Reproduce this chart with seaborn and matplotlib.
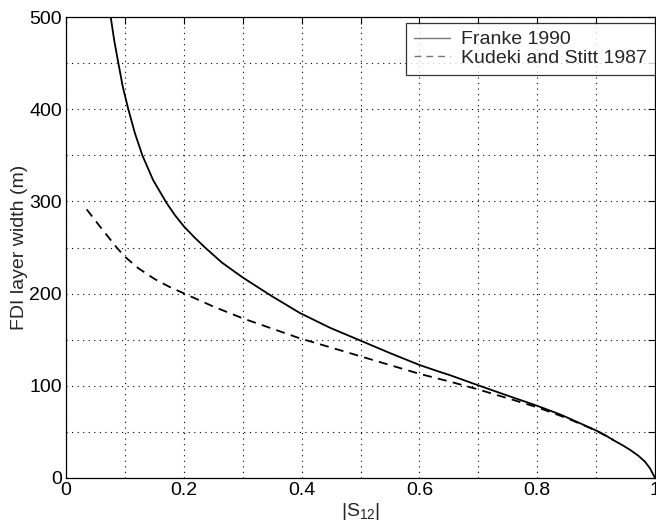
import numpy as np
import pandas as pd
import matplotlib
matplotlib.use("Agg")
import matplotlib.pyplot as plt
import seaborn as sns

# -----------------------------
# Curves
# -----------------------------
franke_s = [0.0759, 0.082, 0.0889, 0.0965, 0.1058, 0.117, 0.1296, 0.148, 0.171, 0.185,
            0.2, 0.218, 0.236, 0.265, 0.3, 0.35, 0.397, 0.448, 0.5, 0.55,
            0.6, 0.635, 0.652, 0.7, 0.75, 0.8, 0.84, 0.873, 0.9, 0.915,
            0.929, 0.945, 0.958, 0.972, 0.983, 0.9915, 1.0]
franke_w = [500, 474, 450, 424, 400, 374, 350, 323, 298, 285,
            273, 261, 250, 233.5, 217.5, 197, 179, 163, 149, 135.5,
            122.6, 115, 111.5, 100.5, 89.3, 78.3, 68.7, 59.3, 51.5, 46.6,
            41.2, 35.5, 30.4, 24, 17.7, 10.5, 0]

kudeki_s = [0.035, 0.058, 0.086, 0.1, 0.123, 0.15, 0.175, 0.2, 0.25, 0.3,
            0.35, 0.397, 0.45, 0.5, 0.55, 0.6, 0.652, 0.7, 0.75, 0.8,
            0.85, 0.9, 0.93]
kudeki_w = [291.4, 272.5, 250, 240, 227.4, 216, 207.5, 200.3, 186, 173.2,
            162, 151.5, 141.5, 132, 122.5, 113, 104.5, 96, 86.5, 76.7,
            65, 51.5, 41]

df = pd.concat([
    pd.DataFrame({'S12': franke_s, 'width': franke_w, 'src': 'Franke 1990'}),
    pd.DataFrame({'S12': kudeki_s, 'width': kudeki_w, 'src': 'Kudeki and Stitt 1987'}),
])

sns.set_style("white")
plt.rcParams['font.family'] = ['Liberation Sans', 'DejaVu Sans']
plt.rcParams['mathtext.fontset'] = 'custom'
plt.rcParams['mathtext.rm'] = 'Liberation Sans'
plt.rcParams['mathtext.it'] = 'Liberation Sans:italic'

fig = plt.figure(figsize=(6.56, 5.26), dpi=100)
ax = fig.add_axes([66 / 656, 48 / 526, 589 / 656, 461 / 526])

sns.lineplot(data=df, x='S12', y='width', style='src', color='black',
             dashes={'Franke 1990': '', 'Kudeki and Stitt 1987': (5, 3.5)},
             sort=False, estimator=None, linewidth=1.3, ax=ax)

ax.set_xlim(0, 1)
ax.set_ylim(0, 500)
ax.set_xticks(np.arange(0, 1.01, 0.1))
ax.set_xticklabels(['0', '', '0.2', '', '0.4', '', '0.6', '', '0.8', '', '1'])
ax.set_yticks(np.arange(0, 501, 50))
ax.set_yticklabels(['0', '', '100', '', '200', '', '300', '', '400', '', '500'])
ax.tick_params(direction='in', length=5, width=0.8, top=True, right=True,
               labelsize=14, pad=3, colors='black')
ax.grid(True, linestyle=(0, (1, 4)), color='black', linewidth=0.8)
for sp in ax.spines.values():
    sp.set_color('black')
    sp.set_linewidth(0.9)

ax.set_xlabel(r'$|\mathrm{S}_{12}|$', fontsize=14, labelpad=1)
ax.set_ylabel('FDI layer width (m)', fontsize=14, labelpad=1)

leg = ax.legend(loc='upper right', bbox_to_anchor=(1.0, 0.987), fontsize=14,
                frameon=True, fancybox=False, borderaxespad=0,
                handlelength=1.85, borderpad=0.4, labelspacing=0.05,
                handletextpad=0.6)
leg.get_frame().set_edgecolor('black')
leg.get_frame().set_linewidth(0.9)
for h in leg.get_lines():
    h.set_color('#777777')
    h.set_linewidth(1.0)

fig.savefig('out.png', dpi=100)
